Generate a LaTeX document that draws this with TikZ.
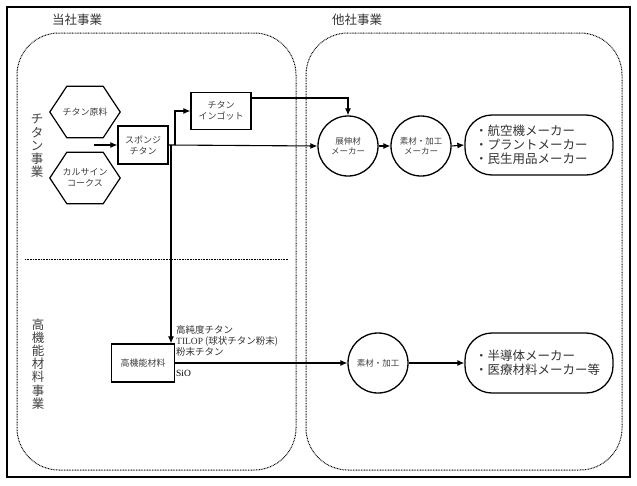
\documentclass[tikz,border=0pt]{standalone}
\usepackage{fontspec}
\setmainfont{Noto Sans CJK JP}
\newfontfamily\latserif{Liberation Serif}
\usetikzlibrary{arrows.meta}
\begin{document}
\begin{tikzpicture}[x=1pt,y=-1pt,
  arr/.style={line width=1.1pt,-{Latex[length=7pt,width=6pt]}},
  ln/.style={line width=1.1pt},
  dotbox/.style={line width=1pt,dash pattern=on 0.8pt off 0.8pt,rounded corners=42pt},
  boxnode/.style={draw,line width=1.2pt,rectangle,inner sep=1pt,align=center,font=\fontsize{9}{11}\selectfont,text=black!75},
  hexnode/.style={rectangle,minimum width=70pt,minimum height=51pt,inner sep=0pt,align=center,font=\fontsize{9}{11}\selectfont,text=black!75},
  circnode/.style={draw,circle,line width=1.3pt,minimum size=60pt,inner sep=0pt,align=center,font=\fontsize{8.5}{10.5}\selectfont,text=black!75},
  pillnode/.style={draw,rectangle,line width=1.3pt,rounded corners=27pt,minimum width=148pt,minimum height=60pt,inner sep=0pt,text width=128pt,align=left,font=\fontsize{12.5}{14}\selectfont,text=black!80},
  vtext/.style={align=center,font=\fontsize{12.5}{13.2}\selectfont,text=black!75},
  hdr/.style={font=\fontsize{12.5}{14}\selectfont,text=black!80}]
\useasboundingbox (0,0) rectangle (637,485);
\fill[white] (0,0) rectangle (637,485);
% outer frame
\draw[line width=1.5pt] (7,7) rectangle (630,477);
\node[hdr] (hdrL) at (77,20) {当社事業};
\node[hdr] (hdrR) at (357,20) {他社事業};
% dotted areas
\draw[dotbox] (17,33) rectangle (296,470);
\draw[dotbox] (306,33) rectangle (622,470);
\draw[line width=1pt,dash pattern=on 0.8pt off 0.8pt] (25,259) -- (288,259);
% vertical labels
\node[vtext] (vt1) at (37,146) {チ\\タ\\ン\\事\\業};
\node[vtext] (vt2) at (38,364) {高\\機\\能\\材\\料\\事\\業};
% hexagons
\node[hexnode] (h1) at (85,112) {チタン原料};
\node[hexnode] (h2) at (85,178) {カルサイン\\コークス};
\foreach \h in {h1,h2}{
  \draw[line width=1.2pt] (\h.west) -- ([xshift=17pt]\h.north west) -- ([xshift=-17pt]\h.north east) -- (\h.east) -- ([xshift=-17pt]\h.south east) -- ([xshift=17pt]\h.south west) -- cycle;
}
% boxes
\node[boxnode,minimum width=50pt,minimum height=38pt] (sp) at (143,145) {スポンジ\\チタン};
\node[boxnode,minimum width=60pt,minimum height=37pt] (ing) at (221,111) {チタン\\インゴット};
\node[boxnode,minimum width=63pt,minimum height=38pt] (hf) at (143,363) {高機能材料};
% circles and pills
\node[circnode] (c1) at (348,146) {展伸材\\メーカー};
\node[circnode] (c2) at (421,146) {素材・加工\\メーカー};
\node[pillnode] (r1) at (539,145) {・航空機メーカー\\・プラントメーカー\\・民生用品メーカー};
\node[circnode] (c3) at (378,363) {素材・加工};
\node[pillnode] (r2) at (539,363) {・半導体メーカー\\・医療材料メーカー等};
% labels beside hf
\node[anchor=north west,inner sep=0pt,align=left,font=\fontsize{9.5}{11}\selectfont,text=black!80] (lab1) at (176,325) {高純度チタン\\{\latserif TILOP} (球状チタン粉末)\\粉末チタン};
\node[anchor=west,inner sep=0pt,font=\latserif\fontsize{9.5}{11}\selectfont] (lab2) at (176,373) {SiO};
% connectors
\coordinate (in1) at (94,145);
\coordinate (j1) at (175,145);
\coordinate (j2) at (171,145);
\draw[arr] (in1) -- (sp.west);
\draw[arr] (sp.east) -- (c1.west);
\draw[arr] (j1) |- (ing.west);
\draw[arr] ([yshift=13pt]ing.east) -| (c1.north);
\draw[arr] (j2) -- (j2 |- hf.north);
\draw[arr] (c1.east) -- (c2.west);
\draw[arr] (c2.east) -- (r1.west);
\draw[arr] (hf.east) -- (c3.west);
\draw[arr] (c3.east) -- (r2.west);
\end{tikzpicture}
\end{document}
